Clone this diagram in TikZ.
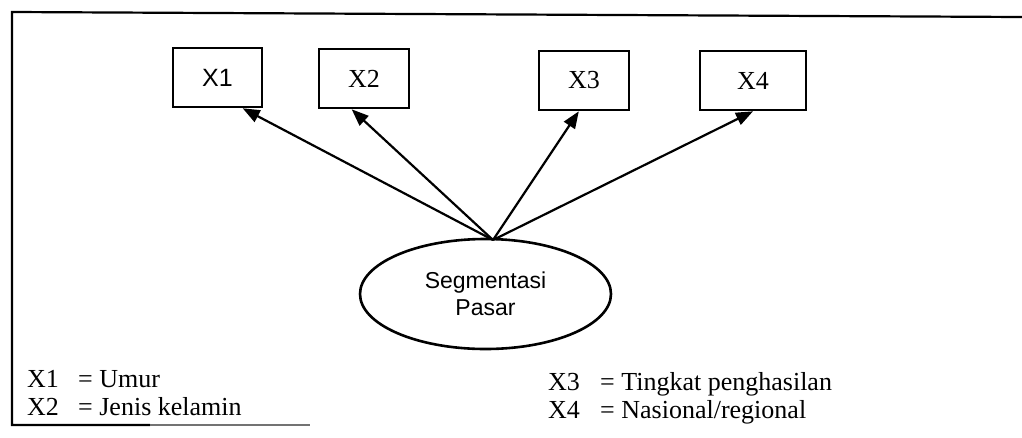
\documentclass[tikz,border=0pt]{standalone}
\usepackage{fontspec}
\setmainfont{Liberation Serif}
\newfontfamily\arialfont{Liberation Sans}
\usetikzlibrary{arrows.meta,shapes.geometric,calc}

\tikzset{
  varbox/.style={draw, line width=2.6pt, rectangle, inner sep=0pt,
                 minimum height=59pt},
  serifbig/.style={font=\fontsize{26}{26}\selectfont},
  sansbig/.style={font=\arialfont\fontsize{25}{25}\selectfont},
  latent/.style={draw, line width=2.6pt, ellipse, inner sep=0pt,
                 minimum width=251pt, minimum height=110pt, align=center,
                 font=\arialfont\fontsize{23}{27}\selectfont},
  link/.style={line width=2.2pt, -{Triangle[length=17pt,width=13pt]}},
  legend/.style={anchor=base west, inner sep=0pt,
                 font=\fontsize{26}{26}\selectfont},
  frame/.style={line width=2.2pt}
}

\begin{document}
\begin{tikzpicture}[x=1pt, y=-1pt]
  \useasboundingbox (0,0) rectangle (1022,437);

  % outer frame (open on the right)
  \draw[frame] (1022,17) -- (12,12) -- (12,425) -- (150,425);
  \draw[frame, black!55] (150,425) -- (310,425);

  % indicator boxes
  \node[varbox, sansbig,  minimum width=89pt]  (x1) at (217.5,77.5) {X1};
  \node[varbox, serifbig, minimum width=90pt]  (x2) at (364,78.5)   {X2};
  \node[varbox, serifbig, minimum width=90pt]  (x3) at (584,80.5)   {X3};
  \node[varbox, serifbig, minimum width=106pt] (x4) at (753,80.5)   {X4};

  % latent construct
  \node[latent] (seg) at (485.5,294) {Segmentasi\\Pasar};
  \coordinate (src) at (493,240);

  % arrows from the construct to its indicators
  \draw[link] (src) -- ($(x1.south west)!0.775!(x1.south east)$);
  \draw[link] (src) -- ($(x2.south west)!0.367!(x2.south east)$);
  \draw[link] (src) -- ($(x3.south west)!0.444!(x3.south east)$);
  \draw[link] (src) -- (x4.south);

  % legend
  \node[legend] (l1a) at (27,387)  {X1};
  \node[legend] (l1b) at (78,387)  {= Umur};
  \node[legend] (l2a) at (27,415)  {X2};
  \node[legend] (l2b) at (78,415)  {= Jenis kelamin};
  \node[legend] (l3a) at (548,390) {X3};
  \node[legend] (l3b) at (600,390) {= Tingkat penghasilan};
  \node[legend] (l4a) at (548,418) {X4};
  \node[legend] (l4b) at (600,418) {= Nasional/regional};
\end{tikzpicture}
\end{document}
